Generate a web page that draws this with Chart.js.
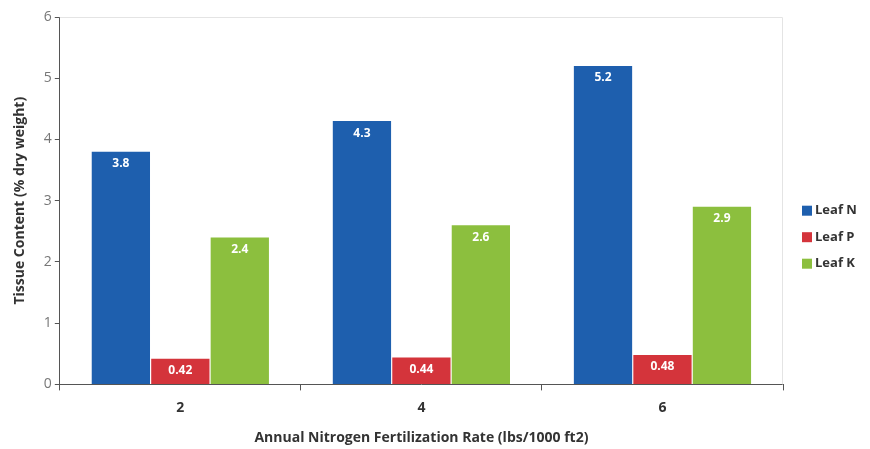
<!DOCTYPE html>
<html>
<head>
<meta charset="utf-8">
<script src="https://cdn.jsdelivr.net/npm/chart.js@4.4.0/dist/chart.umd.min.js"></script>
<style>
	html, body { margin: 0; padding: 0; background: #fff; }
	#wrap { width: 870px; height: 449px; }
</style>
</head>
<body>
<div id="wrap"><canvas id="tissueChart"></canvas></div>
<script>
"use strict"

// DATA -----------------------
const rates = ["2", "4", "6"]
const leafN = [3.8, 4.3, 5.2]
const leafP = [0.42, 0.44, 0.48]
const leafK = [2.4, 2.6, 2.9]
const yTicks = [0, 1, 2, 3, 4, 5, 6]

const fontFam = "'Open Sans', 'DejaVu Sans', sans-serif"

// value labels drawn inside top of each bar
const barLabels = {
	id: "barLabels",
	afterDatasetsDraw(chart) {
		const ctx = chart.ctx
		ctx.save()
		ctx.font = "bold 12px " + fontFam
		ctx.fillStyle = "#ffffff"
		ctx.textAlign = "center"
		ctx.textBaseline = "middle"
		chart.data.datasets.forEach(function (ds, i) {
			chart.getDatasetMeta(i).data.forEach(function (bar, j) {
				ctx.fillText(String(ds.data[j]), bar.x, bar.y + 12)
			})
		})
		ctx.restore()
	},
}

// faint frame at the top and right of the plot
const frame = {
	id: "frame",
	beforeDatasetsDraw(chart) {
		const a = chart.chartArea
		const ctx = chart.ctx
		ctx.save()
		ctx.strokeStyle = "#e4e4e4"
		ctx.lineWidth = 1
		ctx.beginPath()
		ctx.moveTo(a.left, a.top + 0.5)
		ctx.lineTo(a.right - 0.5, a.top + 0.5)
		ctx.lineTo(a.right - 0.5, a.bottom)
		ctx.stroke()
		ctx.restore()
	},
}

// legend at the right, drawn from the datasets (built-in one can't space it like this)
const sideLegend = {
	id: "sideLegend",
	afterDraw(chart) {
		const a = chart.chartArea
		const ctx = chart.ctx
		const step = 26.5
		const y0 = (a.top + a.bottom) / 2 + 10
		ctx.save()
		ctx.font = "bold 13px " + fontFam
		ctx.textBaseline = "middle"
		ctx.textAlign = "left"
		chart.data.datasets.forEach(function (ds, i) {
			const y = y0 + i * step
			ctx.fillStyle = ds.backgroundColor
			ctx.fillRect(a.right + 19, y - 5, 10, 10)
			ctx.fillStyle = "#333"
			ctx.fillText(ds.label, a.right + 32, y)
		})
		ctx.restore()
	},
}

// CHART -----------------------
new Chart(document.getElementById("tissueChart"), {
	type: "bar",
	data: {
		labels: rates,
		datasets: [
			{ label: "Leaf N", data: leafN, backgroundColor: "#1e5fae" },
			{ label: "Leaf P", data: leafP, backgroundColor: "#d4343b" },
			{ label: "Leaf K", data: leafK, backgroundColor: "#8cbf3e" },
		],
	},
	options: {
		responsive: true,
		maintainAspectRatio: false,
		animation: false,
		datasets: {
			bar: { categoryPercentage: 0.74, barPercentage: 0.98 },
		},
		layout: { padding: { top: 17, right: 87, left: 8, bottom: -1 } },
		plugins: {
			legend: { display: false },
			tooltip: { enabled: false },
		},
		scales: {
			x: {
				grid: {
					drawOnChartArea: false,
					tickLength: 6,
					color: "#555",
				},
				border: { color: "#555" },
				ticks: {
					color: "#333",
					font: { family: fontFam, size: 14, weight: "bold" },
					padding: 9,
				},
				title: {
					display: true,
					text: "Annual Nitrogen Fertilization Rate (lbs/1000 ft2)",
					color: "#333",
					font: { family: fontFam, size: 14, weight: "bold" },
					padding: { top: 4 },
				},
			},
			y: {
				min: yTicks[0],
				max: yTicks[yTicks.length - 1],
				afterBuildTicks(axis) {
					axis.ticks = yTicks.map(function (v) { return { value: v } })
				},
				grid: {
					drawOnChartArea: false,
					tickLength: 5,
					color: "#555",
				},
				border: { color: "#555" },
				ticks: {
					color: "#777",
					font: { family: fontFam, size: 14 },
					padding: 3,
				},
				title: {
					display: true,
					text: "Tissue Content (% dry weight)",
					color: "#333",
					font: { family: fontFam, size: 14, weight: "bold" },
					padding: { bottom: 12 },
				},
			},
		},
	},
	plugins: [barLabels, frame, sideLegend],
})
</script>
</body>
</html>
